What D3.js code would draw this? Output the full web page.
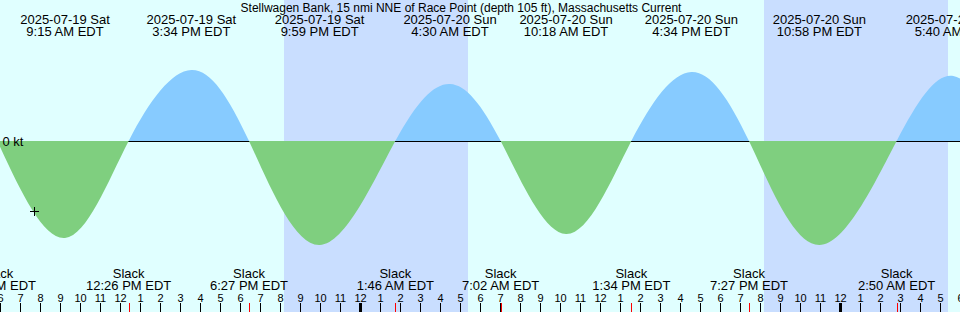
<!DOCTYPE html>
<html>
<head>
<meta charset="utf-8">
<script src="https://cdn.jsdelivr.net/npm/d3@7"></script>
<style>
  html, body { margin: 0; padding: 0; background: #e0ffff; }
  svg { display: block; font-family: "Liberation Sans", Arial, sans-serif; }
</style>
</head>
<body>
<svg id="chart" width="960" height="312"></svg>
<script>
// ---- data ----
const title = "Stellwagen Bank, 15 nmi NNE of Race Point (depth 105 ft), Massachusetts Current";
const viewStart = "2025-07-19T06:00";
const viewEnd = "2025-07-21T06:00";

// maximum current events (kt, + flood, - ebb)
const maxTimes  = ["2025-07-19T09:15","2025-07-19T15:34","2025-07-19T21:59","2025-07-20T04:30",
                   "2025-07-20T10:18","2025-07-20T16:34","2025-07-20T22:58","2025-07-21T05:40"];
const maxValues = [-0.97, 0.71, -1.04, 0.57, -0.93, 0.69, -1.04, 0.65];
const maxDateLabels = ["2025-07-19 Sat","2025-07-19 Sat","2025-07-19 Sat","2025-07-20 Sun",
                       "2025-07-20 Sun","2025-07-20 Sun","2025-07-20 Sun","2025-07-21 Mon"];
const maxTimeLabels = ["9:15 AM EDT","3:34 PM EDT","9:59 PM EDT","4:30 AM EDT",
                       "10:18 AM EDT","4:34 PM EDT","10:58 PM EDT","5:40 AM EDT"];

// slack events
const slackTimes  = ["2025-07-19T05:52","2025-07-19T12:26","2025-07-19T18:27","2025-07-20T01:46",
                     "2025-07-20T07:02","2025-07-20T13:34","2025-07-20T19:27","2025-07-21T02:50"];
const slackLabels = ["5:52 AM EDT","12:26 PM EDT","6:27 PM EDT","1:46 AM EDT",
                     "7:02 AM EDT","1:34 PM EDT","7:27 PM EDT","2:50 AM EDT"];
// next slack, just past the right edge (estimated)
const trailingSlack = "2025-07-21T08:20";

// night (sunset -> sunrise)
const nightStarts = ["2025-07-19T20:12","2025-07-20T20:12"];
const nightEnds   = ["2025-07-20T05:24","2025-07-21T05:24"];

// current-time marker
const nowTime = "2025-07-19T07:42";
const nowValue = -0.70;

// ---- drawing ----
const W = 960, H = 312;
const parse = d3.timeParse("%Y-%m-%dT%H:%M");
const svg = d3.select("#chart");

const x = d3.scaleTime().domain([parse(viewStart), parse(viewEnd)]).range([0, W]);
const y = d3.scaleLinear().domain([-1, 1]).range([241, 41]);
const y0 = y(0);

// background
svg.append("rect").attr("width", W).attr("height", H).attr("fill", "#e0ffff");

// night bands
svg.append("g").selectAll("rect")
  .data(d3.zip(nightStarts, nightEnds))
  .join("rect")
  .attr("x", d => x(parse(d[0])))
  .attr("width", d => x(parse(d[1])) - x(parse(d[0])))
  .attr("y", 0).attr("height", H)
  .attr("fill", "#c9deff");

// zero line
svg.append("line")
  .attr("x1", 0).attr("x2", W)
  .attr("y1", y0 + 0.5).attr("y2", y0 + 0.5)
  .attr("stroke", "#000").attr("stroke-width", 1);

// curve points
const pts = [];
slackTimes.forEach(t => pts.push({t: parse(t), v: 0}));
maxTimes.forEach((t, i) => pts.push({t: parse(t), v: maxValues[i]}));
pts.push({t: parse(trailingSlack), v: 0});
pts.sort((a, b) => a.t - b.t);

const defs = svg.append("defs");
defs.append("clipPath").attr("id", "clipPos")
  .append("rect").attr("x", 0).attr("y", 0).attr("width", W).attr("height", y0);
defs.append("clipPath").attr("id", "clipNeg")
  .append("rect").attr("x", 0).attr("y", y0).attr("width", W).attr("height", H - y0);

const area = d3.area()
  .x(d => x(d.t))
  .y0(y0)
  .y1(d => y(d.v))
  .curve(d3.curveNatural);

svg.append("path").datum(pts)
  .attr("d", area)
  .attr("fill", "#87cbff")
  .attr("clip-path", "url(#clipPos)");

svg.append("path").datum(pts)
  .attr("d", area)
  .attr("fill", "#7fcf7f")
  .attr("clip-path", "url(#clipNeg)");

// 0 kt label
svg.append("text")
  .attr("x", 2.5).attr("y", y0 + 5)
  .attr("font-size", 13)
  .text("0 kt");

// title
svg.append("text")
  .attr("x", 461).attr("y", 12)
  .attr("text-anchor", "middle")
  .attr("font-size", 12)
  .text(title);

// maximum labels (top)
const maxG = svg.append("g").attr("font-size", 13).attr("text-anchor", "middle");
maxTimes.forEach((t, i) => {
  const px = x(parse(t));
  maxG.append("text").attr("x", px).attr("y", 24).text(maxDateLabels[i]);
  maxG.append("text").attr("x", px).attr("y", 36).text(maxTimeLabels[i]);
});

// slack labels (bottom)
const slackG = svg.append("g").attr("font-size", 13).attr("text-anchor", "middle");
slackTimes.forEach((t, i) => {
  const px = x(parse(t));
  slackG.append("text").attr("x", px).attr("y", 278).text("Slack");
  slackG.append("text").attr("x", px).attr("y", 289.5).text(slackLabels[i]);
});

// hour axis
const axis = d3.axisTop(x)
  .ticks(d3.timeHour.every(1))
  .tickFormat(d3.timeFormat("%-I"))
  .tickSize(9)
  .tickPadding(1);
const axG = svg.append("g").attr("transform", `translate(0,${H})`).call(axis);
axG.select(".domain").remove();
axG.selectAll(".tick text")
  .attr("font-size", 11)
  .attr("font-family", "'Liberation Sans', Arial, sans-serif")
  .attr("fill", "#000");
axG.selectAll(".tick line")
  .attr("stroke", "#000")
  .attr("stroke-width", d => d.getHours() === 0 ? 3 : 1);

// slack tick marks
svg.append("g").selectAll("line")
  .data(slackTimes)
  .join("line")
  .attr("x1", d => Math.round(x(parse(d))) + 0.5)
  .attr("x2", d => Math.round(x(parse(d))) + 0.5)
  .attr("y1", 303).attr("y2", H)
  .attr("stroke", "#ff0000").attr("stroke-width", 1);

// current-time marker
const mx = Math.round(x(parse(nowTime))) + 0.5;
const my = Math.round(y(nowValue)) + 0.5;
svg.append("path")
  .attr("d", `M${mx - 4.5},${my}H${mx + 4.5}M${mx},${my - 4.5}V${my + 4.5}`)
  .attr("stroke", "#000").attr("stroke-width", 1).attr("fill", "none");
</script>
</body>
</html>
